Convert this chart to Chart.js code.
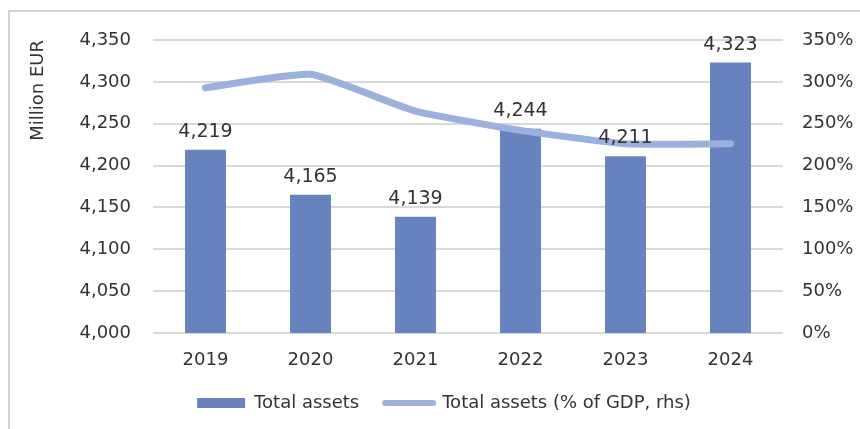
<!DOCTYPE html>
<html>
<head>
<meta charset="utf-8">
<script src="https://cdn.jsdelivr.net/npm/chart.js@4"></script>
<style>
    body { margin: 0; background: #ffffff; overflow: hidden; }
    #wrap { position: relative; width: 860px; height: 429px; overflow: hidden; }
    #frame {
        position: absolute; left: 8px; top: 10px; width: 900px; height: 500px;
        border-top: 2px solid #d2d2d2; border-left: 2px solid #d2d2d2;
    }
    #assetsChart { position: absolute; left: 0; top: 0; }
</style>
</head>
<body>
<div id="wrap">
    <div id="frame"></div>
    <canvas id="assetsChart" width="860" height="429"></canvas>
</div>
<script>
// Total assets, million EUR (bars, left axis) and % of GDP (line, right axis)
const years = ['2019', '2020', '2021', '2022', '2023', '2024'];
const totalAssets = [4219, 4165, 4139, 4244, 4211, 4323];
const assetsPctGdp = [293, 309, 265, 242, 226, 226];

const leftTicks = { min: 4000, max: 4350, step: 50 };
const rightTicks = { min: 0, max: 350, step: 50 };

const barColor = '#6683bf';
const lineColor = '#9cb0de';
const textColor = '#333333';

Chart.defaults.font.family = "'DejaVu Sans', Verdana, sans-serif";
Chart.defaults.color = textColor;

// Value labels above each bar
const barLabels = {
    id: 'barLabels',
    afterDatasetsDraw(chart) {
        const ctx = chart.ctx;
        const meta = chart.getDatasetMeta(0);
        ctx.save();
        ctx.font = "19px 'DejaVu Sans', Verdana, sans-serif";
        ctx.fillStyle = textColor;
        ctx.textAlign = 'center';
        ctx.textBaseline = 'alphabetic';
        meta.data.forEach((bar, i) => {
            const value = chart.data.datasets[0].data[i];
            ctx.fillText(value.toLocaleString('en-US'), bar.x, bar.y - 13);
        });
        ctx.restore();
    }
};

const ctx = document.getElementById('assetsChart').getContext('2d');

new Chart(ctx, {
    type: 'bar',
    data: {
        labels: years,
        datasets: [{
            type: 'bar',
            label: 'Total assets',
            data: totalAssets,
            backgroundColor: barColor,
            yAxisID: 'y',
            categoryPercentage: 1,
            barPercentage: 0.39,
            order: 1
        }, {
            type: 'line',
            label: 'Total assets (% of GDP, rhs)',
            data: assetsPctGdp,
            borderColor: lineColor,
            backgroundColor: lineColor,
            borderWidth: 7,
            borderCapStyle: 'round',
            borderJoinStyle: 'round',
            tension: 0.15,
            pointRadius: 0,
            yAxisID: 'y1',
            order: 0
        }]
    },
    options: {
        responsive: false,
        animation: false,
        layout: {
            padding: { left: 28, right: 0, top: 40, bottom: 7 }
        },
        plugins: {
            tooltip: { enabled: false },
            legend: {
                position: 'bottom',
                labels: {
                    usePointStyle: true,
                    pointStyleWidth: 48,
                    boxHeight: 10,
                    padding: 26,
                    color: textColor,
                    font: { size: 18 },
                    generateLabels: chart => chart.data.datasets.map((ds, i) => ({
                        text: ds.label,
                        fillStyle: ds.type === 'line' ? ds.borderColor : ds.backgroundColor,
                        strokeStyle: ds.type === 'line' ? ds.borderColor : ds.backgroundColor,
                        lineWidth: ds.type === 'line' ? 6 : 0,
                        lineCap: 'round',
                        pointStyle: ds.type === 'line' ? 'line' : 'rect',
                        fontColor: textColor,
                        hidden: !chart.isDatasetVisible(i),
                        datasetIndex: i
                    }))
                }
            }
        },
        scales: {
            x: {
                grid: { display: false },
                border: { display: false },
                ticks: { font: { size: 18 }, padding: 9, color: textColor },
                afterFit: scale => { scale.height = 35; }
            },
            y: {
                position: 'left',
                min: leftTicks.min,
                max: leftTicks.max,
                ticks: {
                    stepSize: leftTicks.step,
                    font: { size: 18 },
                    padding: 22,
                    color: textColor,
                    callback: value => value.toLocaleString('en-US')
                },
                grid: { color: '#d9d9d9', lineWidth: 2, drawTicks: false },
                border: { display: false },
                title: {
                    display: true,
                    text: 'Million EUR',
                    align: 'end',
                    font: { size: 18 },
                    color: textColor,
                    padding: { top: 0, bottom: 0 }
                },
                afterFit: scale => { scale.width = 125; }
            },
            y1: {
                position: 'right',
                min: rightTicks.min,
                max: rightTicks.max,
                ticks: {
                    stepSize: rightTicks.step,
                    font: { size: 18 },
                    padding: 19,
                    color: textColor,
                    callback: value => value + '%'
                },
                grid: { display: false, drawTicks: false },
                border: { display: false },
                afterFit: scale => { scale.width = 77; }
            }
        }
    },
    plugins: [barLabels]
});
</script>
</body>
</html>
